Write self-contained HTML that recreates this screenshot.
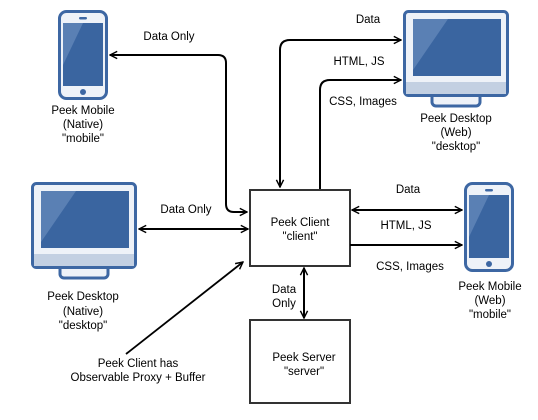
<!DOCTYPE html>
<html><head><style>
body{margin:0;background:#fff;}
svg text{font-family:"Liberation Sans",Arial,sans-serif;font-size:11.5px;fill:#000;}
</style></head><body>
<svg width="538" height="415" viewBox="0 0 538 415" xmlns="http://www.w3.org/2000/svg">
<defs>
<marker id="a" viewBox="0 0 10 10" refX="9" refY="5" markerWidth="9" markerHeight="9" markerUnits="userSpaceOnUse" orient="auto-start-reverse">
<path d="M1,1 L9,5 L1,9" fill="none" stroke="#000" stroke-width="1.6"/>
</marker>
<g id="phone">
<rect x="1.5" y="1.5" width="47" height="87" rx="7" fill="#eef2f8" stroke="#3d67a3" stroke-width="3"/>
<rect x="5" y="13" width="40" height="63" fill="#3a65a0"/>
<path d="M5,13 L25,13 L5,55 Z" fill="#5a80b4"/>
<rect x="21" y="7" width="8" height="2.5" rx="1.2" fill="#3d67a3"/>
<circle cx="25" cy="82" r="3" fill="#3d67a3"/>
</g>
<g id="mon">
<rect x="29" y="82" width="48" height="14" rx="4" fill="#eef2f8" stroke="#3d67a3" stroke-width="3"/>
<rect x="1.5" y="1.5" width="103" height="84" rx="4" fill="#eef2f8" stroke="#3d67a3" stroke-width="3"/>
<rect x="3" y="72" width="100" height="12" fill="#c3d0e2"/>
<rect x="10" y="9" width="88" height="57" fill="#3a65a0"/>
<path d="M10,9 L45,9 L10,60 Z" fill="#5a80b4"/>
</g>
</defs>

<use href="#phone" x="58" y="10"/>
<use href="#mon" x="403" y="10"/>
<use href="#mon" x="31" y="182"/>
<use href="#phone" x="464" y="182"/>

<rect x="250" y="190" width="100" height="76" fill="#fff" stroke="#333" stroke-width="2"/>
<rect x="250" y="320" width="100" height="83" fill="#fff" stroke="#333" stroke-width="2"/>

<g fill="none" stroke="#000" stroke-width="2">
<path d="M110,55 H218 Q226,55 226,63 V204 Q226,212 234,212 H247" marker-start="url(#a)" marker-end="url(#a)"/>
<path d="M280,187 V50 Q280,40 290,40 H401" marker-start="url(#a)" marker-end="url(#a)"/>
<path d="M320,189 V90 Q320,80 330,80 H401" marker-end="url(#a)"/>
<path d="M139,229 H248" marker-start="url(#a)" marker-end="url(#a)"/>
<path d="M352,210 H462" marker-start="url(#a)" marker-end="url(#a)"/>
<path d="M350,245 H462" marker-end="url(#a)"/>
<path d="M304,268 V318" marker-start="url(#a)" marker-end="url(#a)"/>
<path d="M126,354 L243,262" stroke-width="1.8" marker-end="url(#a)"/>
</g>

<g text-anchor="middle">
<text x="169" y="40">Data Only</text>
<text x="83" y="114">Peek Mobile</text>
<text x="83" y="128">(Native)</text>
<text x="83" y="142">"mobile"</text>
<text x="368" y="23">Data</text>
<text x="359" y="65">HTML, JS</text>
<text x="363" y="105">CSS, Images</text>
<text x="456" y="122">Peek Desktop</text>
<text x="456" y="136">(Web)</text>
<text x="456" y="150">"desktop"</text>
<text x="186" y="213">Data Only</text>
<text x="83" y="300">Peek Desktop</text>
<text x="83" y="315">(Native)</text>
<text x="83" y="329">"desktop"</text>
<text x="408" y="193">Data</text>
<text x="406" y="229">HTML, JS</text>
<text x="410" y="270">CSS, Images</text>
<text x="490" y="290">Peek Mobile</text>
<text x="490" y="304">(Web)</text>
<text x="490" y="318">"mobile"</text>
<text x="300" y="226">Peek Client</text>
<text x="300" y="240">"client"</text>
<text x="284" y="293">Data</text>
<text x="284" y="307">Only</text>
<text x="304" y="361">Peek Server</text>
<text x="304" y="375">"server"</text>
<text x="138" y="367">Peek Client has</text>
<text x="138" y="381">Observable Proxy + Buffer</text>
</g>
</svg>
</body></html>
